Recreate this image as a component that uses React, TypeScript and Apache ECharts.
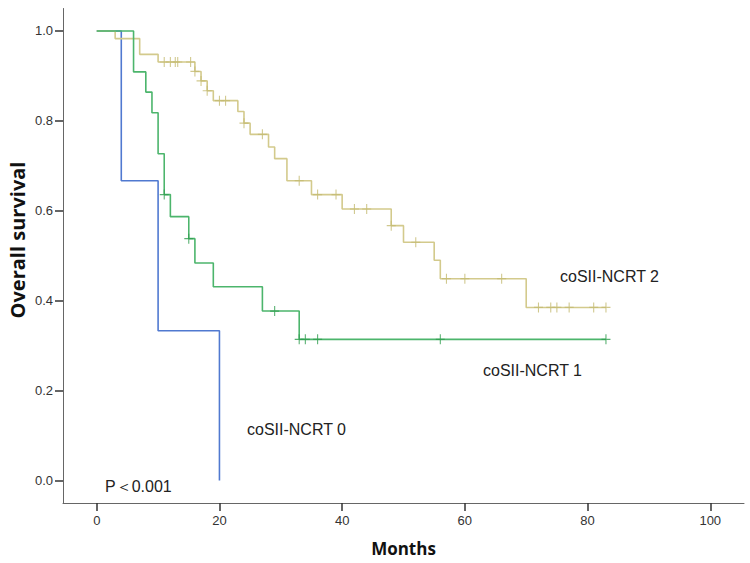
import { useEffect, useRef } from "react";
import * as echarts from "echarts";

// ---- Data ----
const xTicks = [0, 20, 40, 60, 80, 100];
const yTicks = [0, 0.2, 0.4, 0.6, 0.8, 1.0];

const group0Name = "coSII-NCRT 0";
const group0Times = [0, 4, 10, 20];
const group0Surv = [1, 0.667, 0.333, 0];
const group0Censor: number[] = [];

const group1Name = "coSII-NCRT 1";
const group1Times = [0, 6, 8, 9, 10, 11, 12, 15, 16, 19, 27, 33, 83];
const group1Surv = [1, 0.909, 0.864, 0.818, 0.727, 0.636, 0.587, 0.538, 0.484, 0.431, 0.377, 0.314, 0.314];
const group1Censor = [11, 15, 29, 33, 34, 36, 56, 83];

const group2Name = "coSII-NCRT 2";
const group2Times = [0, 3, 7, 10, 16, 17, 18, 19, 23, 24, 25, 28, 29, 31, 35, 40, 48, 50, 55, 56, 70, 83];
const group2Surv = [1, 0.983, 0.948, 0.931, 0.91, 0.889, 0.867, 0.845, 0.821, 0.795, 0.77, 0.742, 0.716, 0.667, 0.636, 0.604, 0.567, 0.53, 0.49, 0.449, 0.385, 0.385];
const group2Censor = [11, 12, 12.8, 13.2, 15.3, 16, 17, 18, 20, 21, 24, 27, 33, 36, 39, 42, 44, 48, 52, 57, 60, 66, 72, 74, 75, 77, 81, 83];

const pValueText = "P＜0.001";

function survAt(times: number[], surv: number[], t: number) {
  let s = surv[0];
  for (let i = 0; i < times.length; i++) if (times[i] <= t) s = surv[i];
  return s;
}

const crossSymbol = "path://M4.4,0h1.2v10h-1.2zM0,4.4h10v1.2h-10z";

export default function App() {
  const ref = useRef<HTMLDivElement>(null);
  useEffect(() => {
    if (!ref.current) return;
    const chart = echarts.init(ref.current, undefined, { renderer: "svg" });

    const lineSeries = (name: string, times: number[], surv: number[], color: string) => ({
      type: "line",
      name,
      step: "end",
      symbol: "none",
      data: times.map((t, i) => [t, surv[i]]),
      lineStyle: { color, width: 1.6 },
      itemStyle: { color },
      silent: true,
    });
    const censorSeries = (name: string, censor: number[], times: number[], surv: number[], color: string) => ({
      type: "scatter",
      name: name + " censored",
      symbol: crossSymbol,
      symbolSize: [9, 10],
      data: censor.map((t) => [t, survAt(times, surv, t)]),
      itemStyle: { color },
      silent: true,
      z: 3,
    });

    const textStyle = { fontFamily: "Liberation Sans", fontSize: 16, fill: "#222" };

    chart.setOption({
      animation: false,
      backgroundColor: "#fff",
      grid: { left: 63, right: 6, top: 8.5, bottom: 60, containLabel: false },
      xAxis: {
        type: "value",
        min: -5.5,
        max: 105.5,
        name: "Months",
        nameLocation: "middle",
        nameGap: 37,
        nameTextStyle: { fontFamily: "Open Sans", fontWeight: "bold", fontSize: 17, color: "#111" },
        axisLine: { show: true, onZero: false, lineStyle: { color: "#666", width: 1 } },
        axisTick: { show: true, customValues: xTicks, length: 8, lineStyle: { color: "#333", width: 1.5 } },
        axisLabel: {
          customValues: xTicks,
          margin: 11,
          fontFamily: "Liberation Sans",
          fontSize: 13,
          color: "#333",
        },
        splitLine: { show: false },
      },
      yAxis: {
        type: "value",
        min: -0.05,
        max: 1.05,
        axisLine: { show: true, onZero: false, lineStyle: { color: "#666", width: 1 } },
        axisTick: { show: true, customValues: yTicks, length: 8, lineStyle: { color: "#333", width: 1.5 } },
        axisLabel: {
          customValues: yTicks,
          margin: 10,
          fontFamily: "Liberation Sans",
          fontSize: 13,
          color: "#333",
          formatter: (v: number) => v.toFixed(1),
        },
        splitLine: { show: false },
      },
      series: [
        lineSeries(group0Name, group0Times, group0Surv, "#5079d0"),
        lineSeries(group2Name, group2Times, group2Surv, "#d3ca8c"),
        lineSeries(group1Name, group1Times, group1Surv, "#4cb56c"),
        censorSeries(group0Name, group0Censor, group0Times, group0Surv, "#3e63b8"),
        censorSeries(group2Name, group2Censor, group2Times, group2Surv, "#c4ba72"),
        censorSeries(group1Name, group1Censor, group1Times, group1Surv, "#2f9e4f"),
      ],
      graphic: [
        {
          type: "text",
          x: 17,
          y: 240,
          rotation: Math.PI / 2,
          style: {
            text: "Overall survival",
            fontFamily: "Open Sans",
            fontWeight: "bold",
            fontSize: 20,
            fill: "#111",
            align: "center",
            verticalAlign: "middle",
          },
        },
        { type: "text", x: 560, y: 276, style: { ...textStyle, text: group2Name, verticalAlign: "middle" } },
        { type: "text", x: 483, y: 370, style: { ...textStyle, text: group1Name, verticalAlign: "middle" } },
        { type: "text", x: 247, y: 429, style: { ...textStyle, text: group0Name, verticalAlign: "middle" } },
        { type: "text", x: 105, y: 486, style: { ...textStyle, text: pValueText, verticalAlign: "middle" } },
      ],
    });
    return () => chart.dispose();
  }, []);
  return (
    <div
      ref={ref}
      style={{ position: "fixed", left: 0, top: 0, width: 750, height: 563, background: "#fff" }}
    />
  );
}
